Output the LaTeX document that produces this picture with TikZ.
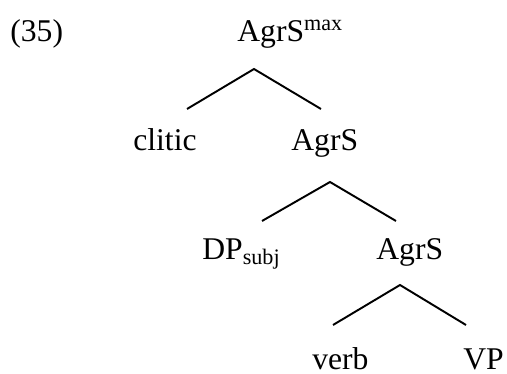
\documentclass[tikz,border=0pt]{standalone}
\usepackage{fontspec}
\setmainfont{Liberation Serif}
\usetikzlibrary{positioning}

\begin{document}
\begin{tikzpicture}[x=0.02cm, y=-0.02cm,
        every node/.style={inner sep=0pt, anchor=base west, font=\fontsize{18}{22}\selectfont},
        branch/.style={line width=1.1pt}]
            \useasboundingbox (0,0) rectangle (507,374);
            \node (ex) at (10,42) {(35)};
            \node (root) at (237,42) {AgrS\textsuperscript{max}};
            \node (clitic) at (133,151) {clitic};
            \node (agrsA) at (291,151) {AgrS};
            \node (dp) at (202,260) {DP\textsubscript{subj}};
            \node (agrsB) at (376,260) {AgrS};
            \node (verb) at (312,370) {verb};
            \node (vp) at (463,370) {VP};
            \coordinate (topA) at (254,69);
            \coordinate (leftA) at (187,109);
            \coordinate (rightA) at (321,109);
            \coordinate (topB) at (330,182);
            \coordinate (leftB) at (262,221);
            \coordinate (rightB) at (396,221);
            \coordinate (topC) at (400,285);
            \coordinate (leftC) at (333,325);
            \coordinate (rightC) at (466,325);
            \draw[branch] (leftA) -- (topA) -- (rightA);
            \draw[branch] (leftB) -- (topB) -- (rightB);
            \draw[branch] (leftC) -- (topC) -- (rightC);
        \end{tikzpicture}
\end{document}
